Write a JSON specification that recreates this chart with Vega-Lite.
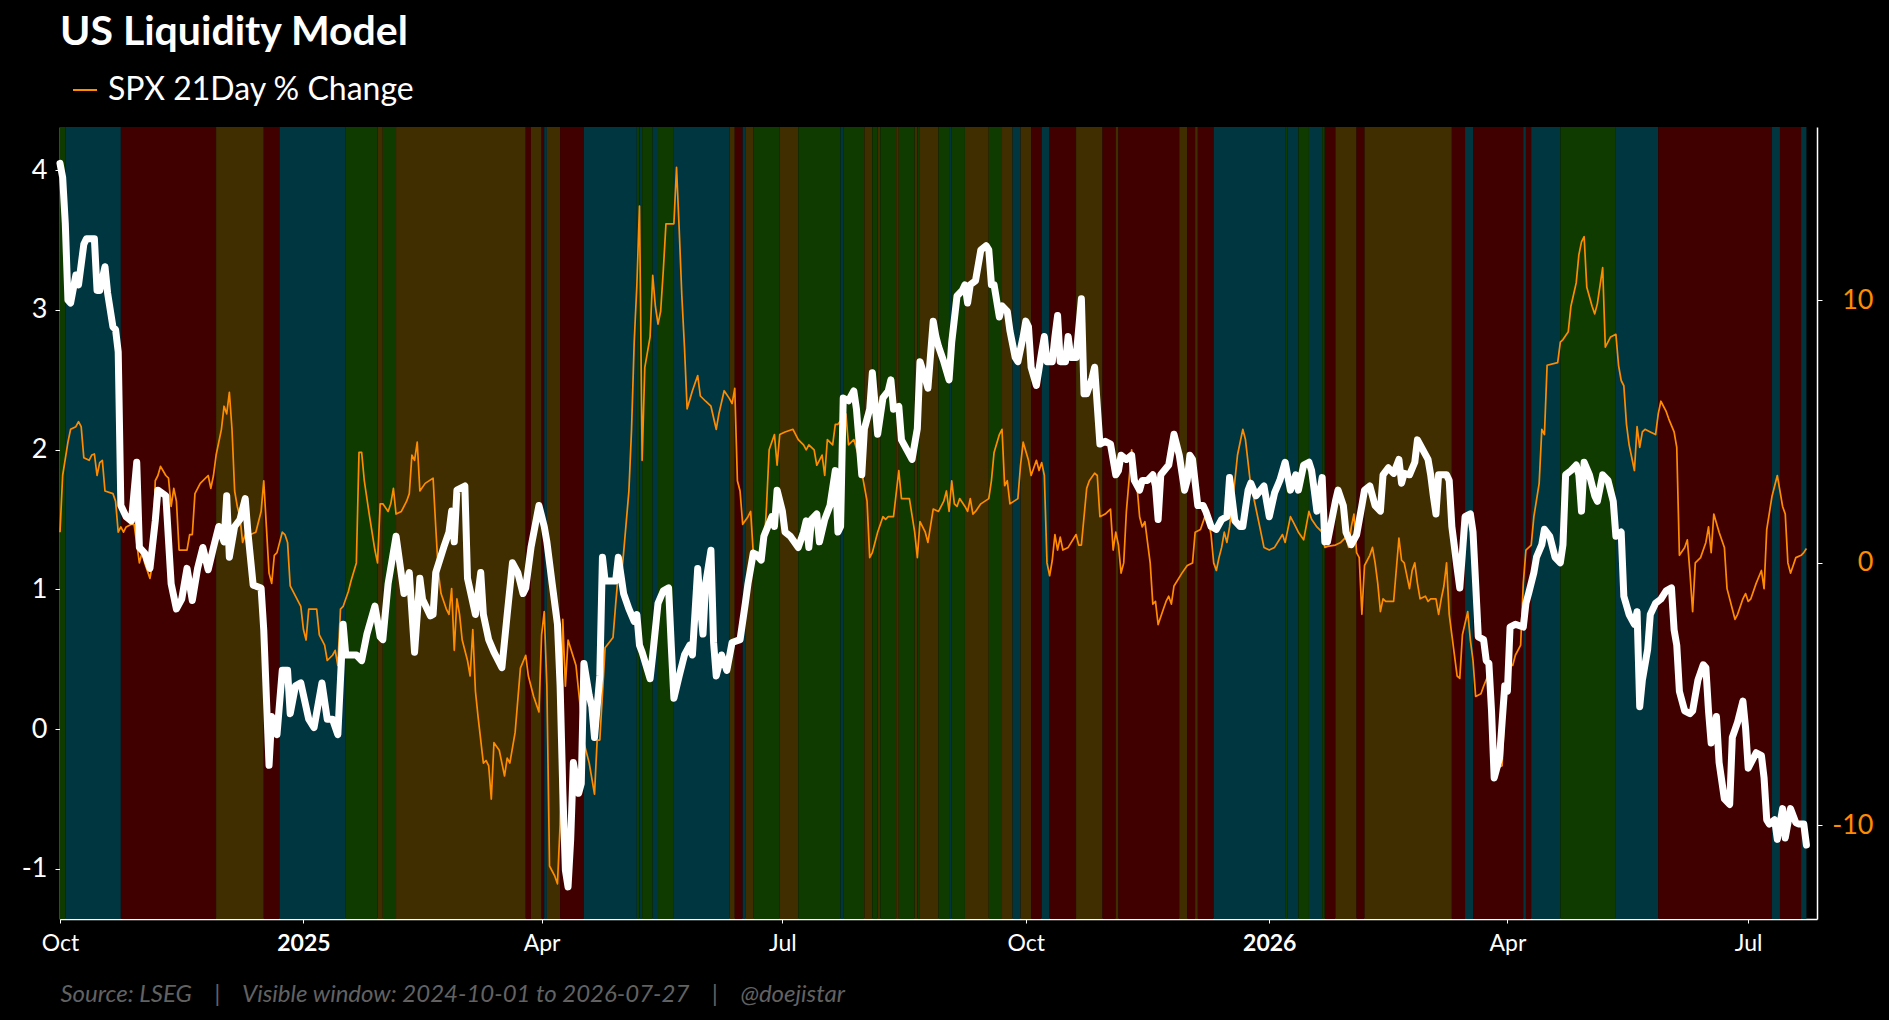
{
  "$schema": "https://vega.github.io/schema/vega-lite/v6.json",
  "background": "black",
  "autosize": {"type": "none"},
  "padding": {"left": 60, "top": 127, "right": 72, "bottom": 101},
  "width": 1757,
  "height": 792,
  "title": {
    "text": "US Liquidity Model",
    "anchor": "start",
    "frame": "group",
    "orient": "top",
    "color": "white",
    "font": "Lato",
    "fontSize": 41,
    "fontWeight": "bold",
    "baseline": "alphabetic",
    "offset": 25,
    "dy": 37
  },
  "config": {
    "view": {"stroke": null},
    "axis": {"grid": false, "labelFont": "Lato", "titleFont": "Lato"},
    "axisX": {
      "labelColor": "white",
      "labelFontSize": 23,
      "labelPadding": 9,
      "labelFlush": false,
      "labelOverlap": false,
      "tickColor": "white",
      "tickSize": 4,
      "domainColor": "white",
      "domainWidth": 1.5,
      "titleColor": "#626262",
      "titleFontSize": 24,
      "titleFontStyle": "italic",
      "titleFontWeight": "normal",
      "titleAnchor": "start",
      "titleAlign": "left",
      "titleBaseline": "alphabetic",
      "titleX": 0,
      "titleY": 82
    }
  },
  "datasets": {
    "bands": [
      {"s": "2024-10-01", "e": "2024-10-03", "r": "green"},
      {"s": "2024-10-03", "e": "2024-10-24", "r": "teal"},
      {"s": "2024-10-24", "e": "2024-11-29", "r": "red"},
      {"s": "2024-11-29", "e": "2024-12-17", "r": "brown"},
      {"s": "2024-12-17", "e": "2024-12-23", "r": "red"},
      {"s": "2024-12-23", "e": "2025-01-17", "r": "teal"},
      {"s": "2025-01-17", "e": "2025-01-29", "r": "green"},
      {"s": "2025-01-29", "e": "2025-01-31", "r": "brown"},
      {"s": "2025-01-31", "e": "2025-02-05", "r": "green"},
      {"s": "2025-02-05", "e": "2025-03-26", "r": "brown"},
      {"s": "2025-03-26", "e": "2025-03-28", "r": "red"},
      {"s": "2025-03-28", "e": "2025-04-01", "r": "brown"},
      {"s": "2025-04-01", "e": "2025-04-02", "r": "red"},
      {"s": "2025-04-02", "e": "2025-04-03", "r": "teal"},
      {"s": "2025-04-03", "e": "2025-04-08", "r": "brown"},
      {"s": "2025-04-08", "e": "2025-04-17", "r": "red"},
      {"s": "2025-04-17", "e": "2025-05-07", "r": "teal"},
      {"s": "2025-05-07", "e": "2025-05-08", "r": "green"},
      {"s": "2025-05-08", "e": "2025-05-09", "r": "teal"},
      {"s": "2025-05-09", "e": "2025-05-13", "r": "green"},
      {"s": "2025-05-13", "e": "2025-05-15", "r": "teal"},
      {"s": "2025-05-15", "e": "2025-05-21", "r": "green"},
      {"s": "2025-05-21", "e": "2025-06-11", "r": "teal"},
      {"s": "2025-06-11", "e": "2025-06-13", "r": "brown"},
      {"s": "2025-06-13", "e": "2025-06-16", "r": "red"},
      {"s": "2025-06-16", "e": "2025-06-17", "r": "teal"},
      {"s": "2025-06-17", "e": "2025-06-20", "r": "brown"},
      {"s": "2025-06-20", "e": "2025-06-30", "r": "green"},
      {"s": "2025-06-30", "e": "2025-07-07", "r": "brown"},
      {"s": "2025-07-07", "e": "2025-07-23", "r": "green"},
      {"s": "2025-07-23", "e": "2025-07-24", "r": "teal"},
      {"s": "2025-07-24", "e": "2025-08-01", "r": "green"},
      {"s": "2025-08-01", "e": "2025-08-04", "r": "brown"},
      {"s": "2025-08-04", "e": "2025-08-06", "r": "green"},
      {"s": "2025-08-06", "e": "2025-08-07", "r": "brown"},
      {"s": "2025-08-07", "e": "2025-08-13", "r": "green"},
      {"s": "2025-08-13", "e": "2025-08-14", "r": "brown"},
      {"s": "2025-08-14", "e": "2025-08-20", "r": "green"},
      {"s": "2025-08-20", "e": "2025-08-21", "r": "brown"},
      {"s": "2025-08-21", "e": "2025-08-22", "r": "green"},
      {"s": "2025-08-22", "e": "2025-08-29", "r": "brown"},
      {"s": "2025-08-29", "e": "2025-09-02", "r": "green"},
      {"s": "2025-09-02", "e": "2025-09-03", "r": "teal"},
      {"s": "2025-09-03", "e": "2025-09-08", "r": "green"},
      {"s": "2025-09-08", "e": "2025-09-17", "r": "brown"},
      {"s": "2025-09-17", "e": "2025-09-22", "r": "green"},
      {"s": "2025-09-22", "e": "2025-09-26", "r": "brown"},
      {"s": "2025-09-26", "e": "2025-09-29", "r": "teal"},
      {"s": "2025-09-29", "e": "2025-10-03", "r": "brown"},
      {"s": "2025-10-03", "e": "2025-10-07", "r": "red"},
      {"s": "2025-10-07", "e": "2025-10-10", "r": "teal"},
      {"s": "2025-10-10", "e": "2025-10-20", "r": "red"},
      {"s": "2025-10-20", "e": "2025-10-30", "r": "brown"},
      {"s": "2025-10-30", "e": "2025-11-04", "r": "red"},
      {"s": "2025-11-04", "e": "2025-11-05", "r": "brown"},
      {"s": "2025-11-05", "e": "2025-11-28", "r": "red"},
      {"s": "2025-11-28", "e": "2025-12-01", "r": "brown"},
      {"s": "2025-12-01", "e": "2025-12-04", "r": "red"},
      {"s": "2025-12-04", "e": "2025-12-05", "r": "brown"},
      {"s": "2025-12-05", "e": "2025-12-11", "r": "red"},
      {"s": "2025-12-11", "e": "2026-01-07", "r": "teal"},
      {"s": "2026-01-07", "e": "2026-01-08", "r": "green"},
      {"s": "2026-01-08", "e": "2026-01-12", "r": "teal"},
      {"s": "2026-01-12", "e": "2026-01-16", "r": "green"},
      {"s": "2026-01-16", "e": "2026-01-21", "r": "teal"},
      {"s": "2026-01-21", "e": "2026-01-22", "r": "green"},
      {"s": "2026-01-22", "e": "2026-01-26", "r": "red"},
      {"s": "2026-01-26", "e": "2026-02-03", "r": "brown"},
      {"s": "2026-02-03", "e": "2026-02-06", "r": "red"},
      {"s": "2026-02-06", "e": "2026-03-11", "r": "brown"},
      {"s": "2026-03-11", "e": "2026-03-16", "r": "red"},
      {"s": "2026-03-16", "e": "2026-03-19", "r": "teal"},
      {"s": "2026-03-19", "e": "2026-04-07", "r": "red"},
      {"s": "2026-04-07", "e": "2026-04-08", "r": "teal"},
      {"s": "2026-04-08", "e": "2026-04-10", "r": "red"},
      {"s": "2026-04-10", "e": "2026-04-21", "r": "teal"},
      {"s": "2026-04-21", "e": "2026-05-12", "r": "green"},
      {"s": "2026-05-12", "e": "2026-05-28", "r": "teal"},
      {"s": "2026-05-28", "e": "2026-07-10", "r": "red"},
      {"s": "2026-07-10", "e": "2026-07-13", "r": "teal"},
      {"s": "2026-07-13", "e": "2026-07-21", "r": "red"},
      {"s": "2026-07-21", "e": "2026-07-23", "r": "teal"}
    ],
    "liq": [
      {"d": "2024-10-01", "v": 4.05}, {"d": "2024-10-02", "v": 3.95}, {"d": "2024-10-03", "v": 3.62},
      {"d": "2024-10-04", "v": 3.07}, {"d": "2024-10-05", "v": 3.05}, {"d": "2024-10-07", "v": 3.25},
      {"d": "2024-10-08", "v": 3.18}, {"d": "2024-10-10", "v": 3.47}, {"d": "2024-10-11", "v": 3.51},
      {"d": "2024-10-14", "v": 3.51}, {"d": "2024-10-15", "v": 3.14}, {"d": "2024-10-16", "v": 3.14},
      {"d": "2024-10-18", "v": 3.31}, {"d": "2024-10-19", "v": 3.12}, {"d": "2024-10-21", "v": 2.88},
      {"d": "2024-10-22", "v": 2.86}, {"d": "2024-10-23", "v": 2.7}, {"d": "2024-10-24", "v": 1.6},
      {"d": "2024-10-26", "v": 1.52}, {"d": "2024-10-28", "v": 1.49}, {"d": "2024-10-30", "v": 1.91},
      {"d": "2024-10-31", "v": 1.3}, {"d": "2024-11-02", "v": 1.26}, {"d": "2024-11-04", "v": 1.15},
      {"d": "2024-11-06", "v": 1.49}, {"d": "2024-11-07", "v": 1.71}, {"d": "2024-11-10", "v": 1.67},
      {"d": "2024-11-12", "v": 1.04}, {"d": "2024-11-14", "v": 0.86}, {"d": "2024-11-16", "v": 0.93},
      {"d": "2024-11-18", "v": 1.15}, {"d": "2024-11-20", "v": 0.92}, {"d": "2024-11-22", "v": 1.15},
      {"d": "2024-11-24", "v": 1.3}, {"d": "2024-11-26", "v": 1.14}, {"d": "2024-11-28", "v": 1.3},
      {"d": "2024-11-30", "v": 1.45}, {"d": "2024-12-02", "v": 1.34}, {"d": "2024-12-03", "v": 1.67},
      {"d": "2024-12-04", "v": 1.23}, {"d": "2024-12-06", "v": 1.45}, {"d": "2024-12-08", "v": 1.5},
      {"d": "2024-12-10", "v": 1.65}, {"d": "2024-12-11", "v": 1.41}, {"d": "2024-12-13", "v": 1.03},
      {"d": "2024-12-16", "v": 1.01}, {"d": "2024-12-17", "v": 0.71}, {"d": "2024-12-19", "v": -0.26},
      {"d": "2024-12-20", "v": 0.09}, {"d": "2024-12-22", "v": -0.04}, {"d": "2024-12-24", "v": 0.42},
      {"d": "2024-12-26", "v": 0.42}, {"d": "2024-12-27", "v": 0.11}, {"d": "2024-12-29", "v": 0.31},
      {"d": "2024-12-31", "v": 0.33}, {"d": "2025-01-03", "v": 0.07}, {"d": "2025-01-05", "v": 0.01},
      {"d": "2025-01-08", "v": 0.33}, {"d": "2025-01-10", "v": 0.07}, {"d": "2025-01-12", "v": 0.07},
      {"d": "2025-01-14", "v": -0.04}, {"d": "2025-01-16", "v": 0.75}, {"d": "2025-01-17", "v": 0.53},
      {"d": "2025-01-21", "v": 0.53}, {"d": "2025-01-23", "v": 0.49}, {"d": "2025-01-25", "v": 0.68},
      {"d": "2025-01-28", "v": 0.88}, {"d": "2025-01-30", "v": 0.66}, {"d": "2025-01-31", "v": 0.64},
      {"d": "2025-02-02", "v": 1.04}, {"d": "2025-02-05", "v": 1.38}, {"d": "2025-02-08", "v": 0.97},
      {"d": "2025-02-10", "v": 1.12}, {"d": "2025-02-12", "v": 0.55}, {"d": "2025-02-14", "v": 1.08},
      {"d": "2025-02-15", "v": 0.93}, {"d": "2025-02-18", "v": 0.81}, {"d": "2025-02-19", "v": 0.82},
      {"d": "2025-02-20", "v": 1.12}, {"d": "2025-02-23", "v": 1.3}, {"d": "2025-02-25", "v": 1.41},
      {"d": "2025-02-26", "v": 1.56}, {"d": "2025-02-27", "v": 1.34}, {"d": "2025-02-28", "v": 1.71},
      {"d": "2025-03-03", "v": 1.74}, {"d": "2025-03-04", "v": 1.08}, {"d": "2025-03-07", "v": 0.82},
      {"d": "2025-03-09", "v": 1.12}, {"d": "2025-03-10", "v": 0.82}, {"d": "2025-03-12", "v": 0.64},
      {"d": "2025-03-14", "v": 0.55}, {"d": "2025-03-17", "v": 0.44}, {"d": "2025-03-19", "v": 0.82},
      {"d": "2025-03-21", "v": 1.19}, {"d": "2025-03-23", "v": 1.12}, {"d": "2025-03-25", "v": 0.97},
      {"d": "2025-03-26", "v": 1.01}, {"d": "2025-03-28", "v": 1.3}, {"d": "2025-03-31", "v": 1.6},
      {"d": "2025-04-02", "v": 1.45}, {"d": "2025-04-03", "v": 1.34}, {"d": "2025-04-05", "v": 1.04},
      {"d": "2025-04-07", "v": 0.75}, {"d": "2025-04-08", "v": 0.31}, {"d": "2025-04-09", "v": -0.43},
      {"d": "2025-04-10", "v": -1.01}, {"d": "2025-04-11", "v": -1.13}, {"d": "2025-04-12", "v": -0.79},
      {"d": "2025-04-13", "v": -0.24}, {"d": "2025-04-15", "v": -0.46}, {"d": "2025-04-16", "v": -0.39},
      {"d": "2025-04-17", "v": 0.47}, {"d": "2025-04-19", "v": 0.24}, {"d": "2025-04-20", "v": 0.16},
      {"d": "2025-04-21", "v": -0.06}, {"d": "2025-04-23", "v": 0.38}, {"d": "2025-04-24", "v": 1.23},
      {"d": "2025-04-25", "v": 1.06}, {"d": "2025-04-29", "v": 1.06}, {"d": "2025-04-30", "v": 1.23},
      {"d": "2025-05-02", "v": 0.97}, {"d": "2025-05-04", "v": 0.86}, {"d": "2025-05-06", "v": 0.77},
      {"d": "2025-05-07", "v": 0.82}, {"d": "2025-05-08", "v": 0.6}, {"d": "2025-05-09", "v": 0.55},
      {"d": "2025-05-12", "v": 0.36}, {"d": "2025-05-13", "v": 0.53}, {"d": "2025-05-15", "v": 0.9},
      {"d": "2025-05-17", "v": 0.99}, {"d": "2025-05-19", "v": 1.01}, {"d": "2025-05-20", "v": 0.6},
      {"d": "2025-05-21", "v": 0.22}, {"d": "2025-05-23", "v": 0.38}, {"d": "2025-05-25", "v": 0.53},
      {"d": "2025-05-27", "v": 0.6}, {"d": "2025-05-28", "v": 0.53}, {"d": "2025-05-30", "v": 1.15},
      {"d": "2025-05-31", "v": 0.88}, {"d": "2025-06-01", "v": 0.68}, {"d": "2025-06-02", "v": 1.04},
      {"d": "2025-06-04", "v": 1.28}, {"d": "2025-06-05", "v": 0.62}, {"d": "2025-06-06", "v": 0.38},
      {"d": "2025-06-08", "v": 0.53}, {"d": "2025-06-10", "v": 0.42}, {"d": "2025-06-12", "v": 0.62},
      {"d": "2025-06-15", "v": 0.64}, {"d": "2025-06-17", "v": 0.9}, {"d": "2025-06-18", "v": 1.04},
      {"d": "2025-06-20", "v": 1.26}, {"d": "2025-06-21", "v": 1.25}, {"d": "2025-06-23", "v": 1.21},
      {"d": "2025-06-24", "v": 1.38}, {"d": "2025-06-27", "v": 1.52}, {"d": "2025-06-28", "v": 1.45},
      {"d": "2025-06-29", "v": 1.71}, {"d": "2025-07-01", "v": 1.56}, {"d": "2025-07-02", "v": 1.41},
      {"d": "2025-07-04", "v": 1.38}, {"d": "2025-07-07", "v": 1.3}, {"d": "2025-07-09", "v": 1.41},
      {"d": "2025-07-10", "v": 1.49}, {"d": "2025-07-11", "v": 1.3}, {"d": "2025-07-12", "v": 1.5},
      {"d": "2025-07-14", "v": 1.54}, {"d": "2025-07-15", "v": 1.34}, {"d": "2025-07-17", "v": 1.5},
      {"d": "2025-07-19", "v": 1.6}, {"d": "2025-07-21", "v": 1.85}, {"d": "2025-07-22", "v": 1.41},
      {"d": "2025-07-23", "v": 1.45}, {"d": "2025-07-24", "v": 2.37}, {"d": "2025-07-26", "v": 2.35},
      {"d": "2025-07-28", "v": 2.42}, {"d": "2025-07-29", "v": 2.29}, {"d": "2025-07-31", "v": 1.82},
      {"d": "2025-08-01", "v": 2.15}, {"d": "2025-08-03", "v": 2.29}, {"d": "2025-08-04", "v": 2.55},
      {"d": "2025-08-06", "v": 2.11}, {"d": "2025-08-08", "v": 2.37}, {"d": "2025-08-10", "v": 2.42},
      {"d": "2025-08-11", "v": 2.5}, {"d": "2025-08-12", "v": 2.29}, {"d": "2025-08-14", "v": 2.31},
      {"d": "2025-08-15", "v": 2.07}, {"d": "2025-08-17", "v": 2.0}, {"d": "2025-08-19", "v": 1.93},
      {"d": "2025-08-21", "v": 2.15}, {"d": "2025-08-22", "v": 2.63}, {"d": "2025-08-24", "v": 2.51},
      {"d": "2025-08-25", "v": 2.44}, {"d": "2025-08-27", "v": 2.92}, {"d": "2025-08-28", "v": 2.81},
      {"d": "2025-08-29", "v": 2.74}, {"d": "2025-08-31", "v": 2.63}, {"d": "2025-09-02", "v": 2.5},
      {"d": "2025-09-03", "v": 2.77}, {"d": "2025-09-05", "v": 3.1}, {"d": "2025-09-07", "v": 3.14},
      {"d": "2025-09-08", "v": 3.18}, {"d": "2025-09-09", "v": 3.05}, {"d": "2025-09-10", "v": 3.18},
      {"d": "2025-09-12", "v": 3.21}, {"d": "2025-09-14", "v": 3.43}, {"d": "2025-09-16", "v": 3.46},
      {"d": "2025-09-17", "v": 3.43}, {"d": "2025-09-18", "v": 3.18}, {"d": "2025-09-19", "v": 3.18},
      {"d": "2025-09-21", "v": 2.95}, {"d": "2025-09-22", "v": 3.03}, {"d": "2025-09-24", "v": 2.99},
      {"d": "2025-09-25", "v": 2.85}, {"d": "2025-09-27", "v": 2.66}, {"d": "2025-09-28", "v": 2.63},
      {"d": "2025-09-30", "v": 2.81}, {"d": "2025-10-01", "v": 2.92}, {"d": "2025-10-02", "v": 2.88},
      {"d": "2025-10-03", "v": 2.59}, {"d": "2025-10-05", "v": 2.46}, {"d": "2025-10-07", "v": 2.7},
      {"d": "2025-10-08", "v": 2.81}, {"d": "2025-10-09", "v": 2.63}, {"d": "2025-10-11", "v": 2.63},
      {"d": "2025-10-12", "v": 2.81}, {"d": "2025-10-13", "v": 2.96}, {"d": "2025-10-14", "v": 2.63},
      {"d": "2025-10-16", "v": 2.63}, {"d": "2025-10-17", "v": 2.81}, {"d": "2025-10-18", "v": 2.66},
      {"d": "2025-10-20", "v": 2.66}, {"d": "2025-10-22", "v": 3.08}, {"d": "2025-10-23", "v": 2.4},
      {"d": "2025-10-24", "v": 2.4}, {"d": "2025-10-26", "v": 2.51}, {"d": "2025-10-27", "v": 2.59},
      {"d": "2025-10-29", "v": 2.04}, {"d": "2025-10-31", "v": 2.06}, {"d": "2025-11-02", "v": 2.04},
      {"d": "2025-11-04", "v": 1.82}, {"d": "2025-11-05", "v": 1.85}, {"d": "2025-11-06", "v": 1.96},
      {"d": "2025-11-08", "v": 1.93}, {"d": "2025-11-10", "v": 1.96}, {"d": "2025-11-11", "v": 1.78},
      {"d": "2025-11-13", "v": 1.71}, {"d": "2025-11-14", "v": 1.78}, {"d": "2025-11-16", "v": 1.78},
      {"d": "2025-11-18", "v": 1.82}, {"d": "2025-11-19", "v": 1.74}, {"d": "2025-11-20", "v": 1.5},
      {"d": "2025-11-21", "v": 1.82}, {"d": "2025-11-24", "v": 1.89}, {"d": "2025-11-26", "v": 2.11},
      {"d": "2025-11-28", "v": 1.96}, {"d": "2025-11-30", "v": 1.71}, {"d": "2025-12-01", "v": 1.78},
      {"d": "2025-12-02", "v": 1.96}, {"d": "2025-12-03", "v": 1.93}, {"d": "2025-12-05", "v": 1.6},
      {"d": "2025-12-07", "v": 1.6}, {"d": "2025-12-08", "v": 1.56}, {"d": "2025-12-10", "v": 1.45},
      {"d": "2025-12-12", "v": 1.43}, {"d": "2025-12-14", "v": 1.5}, {"d": "2025-12-16", "v": 1.52},
      {"d": "2025-12-17", "v": 1.8}, {"d": "2025-12-19", "v": 1.49}, {"d": "2025-12-21", "v": 1.45},
      {"d": "2025-12-22", "v": 1.45}, {"d": "2025-12-24", "v": 1.71}, {"d": "2025-12-25", "v": 1.76},
      {"d": "2025-12-27", "v": 1.67}, {"d": "2025-12-30", "v": 1.74}, {"d": "2026-01-01", "v": 1.52},
      {"d": "2026-01-03", "v": 1.69}, {"d": "2026-01-05", "v": 1.78}, {"d": "2026-01-07", "v": 1.91},
      {"d": "2026-01-09", "v": 1.71}, {"d": "2026-01-11", "v": 1.82}, {"d": "2026-01-12", "v": 1.71},
      {"d": "2026-01-14", "v": 1.89}, {"d": "2026-01-16", "v": 1.91}, {"d": "2026-01-17", "v": 1.85},
      {"d": "2026-01-18", "v": 1.71}, {"d": "2026-01-19", "v": 1.56}, {"d": "2026-01-21", "v": 1.8},
      {"d": "2026-01-22", "v": 1.34}, {"d": "2026-01-23", "v": 1.34}, {"d": "2026-01-26", "v": 1.63},
      {"d": "2026-01-27", "v": 1.71}, {"d": "2026-01-29", "v": 1.6}, {"d": "2026-01-30", "v": 1.41},
      {"d": "2026-02-01", "v": 1.32}, {"d": "2026-02-03", "v": 1.39}, {"d": "2026-02-05", "v": 1.6},
      {"d": "2026-02-06", "v": 1.71}, {"d": "2026-02-08", "v": 1.74}, {"d": "2026-02-10", "v": 1.6},
      {"d": "2026-02-12", "v": 1.56}, {"d": "2026-02-13", "v": 1.82}, {"d": "2026-02-15", "v": 1.87},
      {"d": "2026-02-17", "v": 1.83}, {"d": "2026-02-19", "v": 1.93}, {"d": "2026-02-20", "v": 1.76},
      {"d": "2026-02-21", "v": 1.83}, {"d": "2026-02-23", "v": 1.82}, {"d": "2026-02-25", "v": 1.91},
      {"d": "2026-02-26", "v": 2.07}, {"d": "2026-02-28", "v": 2.0}, {"d": "2026-03-02", "v": 1.93},
      {"d": "2026-03-03", "v": 1.82}, {"d": "2026-03-04", "v": 1.67}, {"d": "2026-03-05", "v": 1.54},
      {"d": "2026-03-06", "v": 1.82}, {"d": "2026-03-09", "v": 1.82}, {"d": "2026-03-10", "v": 1.78},
      {"d": "2026-03-11", "v": 1.45}, {"d": "2026-03-13", "v": 1.15}, {"d": "2026-03-14", "v": 1.01},
      {"d": "2026-03-15", "v": 1.26}, {"d": "2026-03-16", "v": 1.52}, {"d": "2026-03-18", "v": 1.54},
      {"d": "2026-03-19", "v": 1.41}, {"d": "2026-03-20", "v": 1.04}, {"d": "2026-03-21", "v": 0.66},
      {"d": "2026-03-23", "v": 0.64}, {"d": "2026-03-24", "v": 0.49}, {"d": "2026-03-25", "v": 0.47},
      {"d": "2026-03-26", "v": 0.13}, {"d": "2026-03-27", "v": -0.35}, {"d": "2026-03-29", "v": -0.21},
      {"d": "2026-03-30", "v": 0.05}, {"d": "2026-03-31", "v": 0.31}, {"d": "2026-04-01", "v": 0.27},
      {"d": "2026-04-02", "v": 0.73}, {"d": "2026-04-04", "v": 0.75}, {"d": "2026-04-07", "v": 0.73},
      {"d": "2026-04-08", "v": 0.9}, {"d": "2026-04-09", "v": 0.97}, {"d": "2026-04-11", "v": 1.12},
      {"d": "2026-04-12", "v": 1.23}, {"d": "2026-04-14", "v": 1.32}, {"d": "2026-04-15", "v": 1.43},
      {"d": "2026-04-17", "v": 1.38}, {"d": "2026-04-19", "v": 1.23}, {"d": "2026-04-21", "v": 1.19},
      {"d": "2026-04-22", "v": 1.32}, {"d": "2026-04-23", "v": 1.82}, {"d": "2026-04-25", "v": 1.85},
      {"d": "2026-04-27", "v": 1.89}, {"d": "2026-04-28", "v": 1.82}, {"d": "2026-04-29", "v": 1.56},
      {"d": "2026-04-30", "v": 1.91}, {"d": "2026-05-02", "v": 1.82}, {"d": "2026-05-04", "v": 1.67},
      {"d": "2026-05-05", "v": 1.63}, {"d": "2026-05-07", "v": 1.82}, {"d": "2026-05-09", "v": 1.78},
      {"d": "2026-05-11", "v": 1.63}, {"d": "2026-05-12", "v": 1.38}, {"d": "2026-05-14", "v": 1.41},
      {"d": "2026-05-15", "v": 0.95}, {"d": "2026-05-17", "v": 0.82}, {"d": "2026-05-19", "v": 0.75},
      {"d": "2026-05-20", "v": 0.84}, {"d": "2026-05-21", "v": 0.16}, {"d": "2026-05-22", "v": 0.35},
      {"d": "2026-05-24", "v": 0.57}, {"d": "2026-05-25", "v": 0.82}, {"d": "2026-05-27", "v": 0.9},
      {"d": "2026-05-29", "v": 0.93}, {"d": "2026-05-31", "v": 0.99}, {"d": "2026-06-02", "v": 1.01},
      {"d": "2026-06-03", "v": 0.71}, {"d": "2026-06-04", "v": 0.6}, {"d": "2026-06-05", "v": 0.27},
      {"d": "2026-06-07", "v": 0.13}, {"d": "2026-06-09", "v": 0.11}, {"d": "2026-06-10", "v": 0.13},
      {"d": "2026-06-12", "v": 0.35}, {"d": "2026-06-14", "v": 0.46}, {"d": "2026-06-15", "v": 0.44},
      {"d": "2026-06-16", "v": 0.13}, {"d": "2026-06-17", "v": -0.1}, {"d": "2026-06-19", "v": 0.09},
      {"d": "2026-06-20", "v": -0.24}, {"d": "2026-06-22", "v": -0.5}, {"d": "2026-06-24", "v": -0.54},
      {"d": "2026-06-25", "v": -0.06}, {"d": "2026-06-27", "v": 0.05}, {"d": "2026-06-29", "v": 0.2},
      {"d": "2026-06-30", "v": 0.01}, {"d": "2026-07-01", "v": -0.28}, {"d": "2026-07-04", "v": -0.17},
      {"d": "2026-07-06", "v": -0.19}, {"d": "2026-07-07", "v": -0.35}, {"d": "2026-07-08", "v": -0.65},
      {"d": "2026-07-09", "v": -0.68}, {"d": "2026-07-11", "v": -0.65}, {"d": "2026-07-12", "v": -0.79},
      {"d": "2026-07-14", "v": -0.57}, {"d": "2026-07-15", "v": -0.78}, {"d": "2026-07-17", "v": -0.57},
      {"d": "2026-07-19", "v": -0.67}, {"d": "2026-07-20", "v": -0.68}, {"d": "2026-07-22", "v": -0.68},
      {"d": "2026-07-23", "v": -0.83}
    ],
    "spx": [
      {"d": "2024-10-01", "v": 1.17}, {"d": "2024-10-02", "v": 3.33}, {"d": "2024-10-04", "v": 4.6},
      {"d": "2024-10-05", "v": 5.09}, {"d": "2024-10-07", "v": 5.19}, {"d": "2024-10-08", "v": 5.38},
      {"d": "2024-10-09", "v": 5.19}, {"d": "2024-10-10", "v": 4.01}, {"d": "2024-10-12", "v": 3.91},
      {"d": "2024-10-13", "v": 4.11}, {"d": "2024-10-14", "v": 4.15}, {"d": "2024-10-15", "v": 3.33},
      {"d": "2024-10-16", "v": 3.82}, {"d": "2024-10-17", "v": 3.91}, {"d": "2024-10-18", "v": 2.74},
      {"d": "2024-10-21", "v": 2.64}, {"d": "2024-10-22", "v": 2.35}, {"d": "2024-10-23", "v": 1.17},
      {"d": "2024-10-24", "v": 1.37}, {"d": "2024-10-25", "v": 1.17}, {"d": "2024-10-26", "v": 1.37},
      {"d": "2024-10-28", "v": 1.47}, {"d": "2024-10-29", "v": 1.47}, {"d": "2024-10-31", "v": 0.0},
      {"d": "2024-11-01", "v": 0.39}, {"d": "2024-11-02", "v": 0.0}, {"d": "2024-11-04", "v": -0.59},
      {"d": "2024-11-05", "v": 0.0}, {"d": "2024-11-06", "v": 3.13}, {"d": "2024-11-07", "v": 3.33},
      {"d": "2024-11-08", "v": 3.68}, {"d": "2024-11-10", "v": 3.33}, {"d": "2024-11-11", "v": 3.23},
      {"d": "2024-11-12", "v": 2.15}, {"d": "2024-11-13", "v": 2.84}, {"d": "2024-11-14", "v": 2.35},
      {"d": "2024-11-15", "v": 0.49}, {"d": "2024-11-18", "v": 0.49}, {"d": "2024-11-19", "v": 1.08},
      {"d": "2024-11-20", "v": 1.08}, {"d": "2024-11-21", "v": 2.64}, {"d": "2024-11-23", "v": 3.03},
      {"d": "2024-11-26", "v": 3.33}, {"d": "2024-11-27", "v": 2.84}, {"d": "2024-11-28", "v": 3.33},
      {"d": "2024-11-29", "v": 4.11}, {"d": "2024-12-01", "v": 5.09}, {"d": "2024-12-02", "v": 5.97},
      {"d": "2024-12-03", "v": 5.68}, {"d": "2024-12-04", "v": 6.5}, {"d": "2024-12-05", "v": 5.09},
      {"d": "2024-12-06", "v": 2.74}, {"d": "2024-12-07", "v": 2.15}, {"d": "2024-12-08", "v": 1.76},
      {"d": "2024-12-09", "v": 0.78}, {"d": "2024-12-11", "v": 1.37}, {"d": "2024-12-12", "v": 1.08},
      {"d": "2024-12-14", "v": 1.17}, {"d": "2024-12-16", "v": 1.96}, {"d": "2024-12-17", "v": 3.13},
      {"d": "2024-12-18", "v": 1.37}, {"d": "2024-12-19", "v": -0.39}, {"d": "2024-12-20", "v": -0.78},
      {"d": "2024-12-21", "v": 0.29}, {"d": "2024-12-22", "v": 0.39}, {"d": "2024-12-24", "v": 1.17},
      {"d": "2024-12-25", "v": 1.08}, {"d": "2024-12-26", "v": 0.78}, {"d": "2024-12-27", "v": -0.88},
      {"d": "2024-12-29", "v": -1.27}, {"d": "2024-12-31", "v": -1.66}, {"d": "2025-01-01", "v": -2.54},
      {"d": "2025-01-02", "v": -2.94}, {"d": "2025-01-03", "v": -1.76}, {"d": "2025-01-06", "v": -1.76},
      {"d": "2025-01-07", "v": -2.74}, {"d": "2025-01-09", "v": -3.13}, {"d": "2025-01-10", "v": -3.72},
      {"d": "2025-01-12", "v": -3.52}, {"d": "2025-01-13", "v": -3.33}, {"d": "2025-01-14", "v": -3.91},
      {"d": "2025-01-15", "v": -1.76}, {"d": "2025-01-16", "v": -1.66}, {"d": "2025-01-18", "v": -1.08},
      {"d": "2025-01-19", "v": -0.68}, {"d": "2025-01-21", "v": 0.0}, {"d": "2025-01-22", "v": 4.21},
      {"d": "2025-01-23", "v": 4.21}, {"d": "2025-01-24", "v": 3.13}, {"d": "2025-01-26", "v": 1.76},
      {"d": "2025-01-28", "v": 0.49}, {"d": "2025-01-29", "v": 0.0}, {"d": "2025-01-30", "v": 2.25},
      {"d": "2025-01-31", "v": 2.25}, {"d": "2025-02-02", "v": 1.96}, {"d": "2025-02-03", "v": 2.25},
      {"d": "2025-02-04", "v": 2.84}, {"d": "2025-02-05", "v": 1.86}, {"d": "2025-02-07", "v": 1.96},
      {"d": "2025-02-09", "v": 2.35}, {"d": "2025-02-10", "v": 2.64}, {"d": "2025-02-11", "v": 4.11},
      {"d": "2025-02-12", "v": 3.91}, {"d": "2025-02-13", "v": 4.6}, {"d": "2025-02-14", "v": 2.74},
      {"d": "2025-02-16", "v": 3.03}, {"d": "2025-02-19", "v": 3.23}, {"d": "2025-02-20", "v": 1.37},
      {"d": "2025-02-21", "v": -0.39}, {"d": "2025-02-22", "v": -1.17}, {"d": "2025-02-24", "v": -1.76},
      {"d": "2025-02-25", "v": -1.96}, {"d": "2025-02-26", "v": -0.98}, {"d": "2025-02-27", "v": -3.33},
      {"d": "2025-02-28", "v": -1.37}, {"d": "2025-03-01", "v": -1.96}, {"d": "2025-03-02", "v": -2.94},
      {"d": "2025-03-04", "v": -3.72}, {"d": "2025-03-05", "v": -4.31}, {"d": "2025-03-06", "v": -2.54},
      {"d": "2025-03-07", "v": -4.89}, {"d": "2025-03-08", "v": -5.87}, {"d": "2025-03-10", "v": -7.63},
      {"d": "2025-03-11", "v": -7.53}, {"d": "2025-03-12", "v": -7.73}, {"d": "2025-03-13", "v": -9.0},
      {"d": "2025-03-14", "v": -6.85}, {"d": "2025-03-16", "v": -7.14}, {"d": "2025-03-18", "v": -8.12},
      {"d": "2025-03-19", "v": -7.44}, {"d": "2025-03-20", "v": -7.63}, {"d": "2025-03-22", "v": -6.46},
      {"d": "2025-03-24", "v": -4.01}, {"d": "2025-03-26", "v": -3.52}, {"d": "2025-03-27", "v": -4.31},
      {"d": "2025-03-29", "v": -5.09}, {"d": "2025-03-31", "v": -5.68}, {"d": "2025-04-01", "v": -2.74},
      {"d": "2025-04-02", "v": -1.86}, {"d": "2025-04-03", "v": -4.7}, {"d": "2025-04-04", "v": -11.55},
      {"d": "2025-04-06", "v": -11.94}, {"d": "2025-04-07", "v": -12.23}, {"d": "2025-04-08", "v": -9.98},
      {"d": "2025-04-09", "v": -2.15}, {"d": "2025-04-10", "v": -4.7}, {"d": "2025-04-11", "v": -2.94},
      {"d": "2025-04-14", "v": -3.91}, {"d": "2025-04-15", "v": -4.89}, {"d": "2025-04-17", "v": -6.85},
      {"d": "2025-04-19", "v": -7.63}, {"d": "2025-04-21", "v": -8.81}, {"d": "2025-04-22", "v": -6.75},
      {"d": "2025-04-23", "v": -6.75}, {"d": "2025-04-25", "v": -3.23}, {"d": "2025-04-28", "v": -2.84},
      {"d": "2025-04-29", "v": -1.57}, {"d": "2025-04-30", "v": -0.39}, {"d": "2025-05-01", "v": -0.68},
      {"d": "2025-05-02", "v": 0.39}, {"d": "2025-05-04", "v": 2.74}, {"d": "2025-05-05", "v": 5.09},
      {"d": "2025-05-06", "v": 8.41}, {"d": "2025-05-07", "v": 10.57}, {"d": "2025-05-08", "v": 13.6},
      {"d": "2025-05-09", "v": 3.91}, {"d": "2025-05-10", "v": 7.44}, {"d": "2025-05-12", "v": 8.61},
      {"d": "2025-05-13", "v": 10.96}, {"d": "2025-05-14", "v": 9.78}, {"d": "2025-05-15", "v": 9.1},
      {"d": "2025-05-16", "v": 9.59}, {"d": "2025-05-17", "v": 11.15}, {"d": "2025-05-18", "v": 12.92},
      {"d": "2025-05-21", "v": 12.92}, {"d": "2025-05-22", "v": 15.07}, {"d": "2025-05-23", "v": 12.72},
      {"d": "2025-05-24", "v": 10.18}, {"d": "2025-05-25", "v": 8.22}, {"d": "2025-05-26", "v": 5.87},
      {"d": "2025-05-28", "v": 6.56}, {"d": "2025-05-30", "v": 7.14}, {"d": "2025-05-31", "v": 6.36},
      {"d": "2025-06-02", "v": 6.16}, {"d": "2025-06-04", "v": 5.97}, {"d": "2025-06-06", "v": 5.09},
      {"d": "2025-06-07", "v": 5.68}, {"d": "2025-06-09", "v": 6.56}, {"d": "2025-06-11", "v": 6.26},
      {"d": "2025-06-12", "v": 6.07}, {"d": "2025-06-13", "v": 6.65}, {"d": "2025-06-14", "v": 3.13},
      {"d": "2025-06-15", "v": 2.74}, {"d": "2025-06-16", "v": 1.47}, {"d": "2025-06-18", "v": 1.76},
      {"d": "2025-06-19", "v": 1.96}, {"d": "2025-06-20", "v": 0.39}, {"d": "2025-06-21", "v": 0.29},
      {"d": "2025-06-23", "v": 0.49}, {"d": "2025-06-24", "v": 0.39}, {"d": "2025-06-25", "v": 2.15},
      {"d": "2025-06-26", "v": 4.31}, {"d": "2025-06-28", "v": 4.89}, {"d": "2025-06-29", "v": 3.72},
      {"d": "2025-06-30", "v": 4.89}, {"d": "2025-07-02", "v": 4.99}, {"d": "2025-07-05", "v": 5.09},
      {"d": "2025-07-07", "v": 4.7}, {"d": "2025-07-09", "v": 4.5}, {"d": "2025-07-10", "v": 4.31},
      {"d": "2025-07-11", "v": 4.5}, {"d": "2025-07-13", "v": 4.31}, {"d": "2025-07-14", "v": 3.72},
      {"d": "2025-07-16", "v": 4.11}, {"d": "2025-07-17", "v": 3.33}, {"d": "2025-07-18", "v": 4.7},
      {"d": "2025-07-20", "v": 4.5}, {"d": "2025-07-21", "v": 5.28}, {"d": "2025-07-22", "v": 5.28},
      {"d": "2025-07-25", "v": 5.68}, {"d": "2025-07-26", "v": 4.5}, {"d": "2025-07-28", "v": 4.7},
      {"d": "2025-07-30", "v": 4.01}, {"d": "2025-08-02", "v": 2.35}, {"d": "2025-08-03", "v": 0.2},
      {"d": "2025-08-04", "v": 0.39}, {"d": "2025-08-05", "v": 0.78}, {"d": "2025-08-06", "v": 1.17},
      {"d": "2025-08-08", "v": 1.76}, {"d": "2025-08-09", "v": 1.66}, {"d": "2025-08-10", "v": 1.76},
      {"d": "2025-08-12", "v": 1.76}, {"d": "2025-08-14", "v": 3.52}, {"d": "2025-08-15", "v": 2.45},
      {"d": "2025-08-18", "v": 2.45}, {"d": "2025-08-20", "v": 1.17}, {"d": "2025-08-21", "v": 0.2},
      {"d": "2025-08-22", "v": 1.57}, {"d": "2025-08-24", "v": 1.17}, {"d": "2025-08-25", "v": 0.78},
      {"d": "2025-08-27", "v": 2.05}, {"d": "2025-08-29", "v": 1.96}, {"d": "2025-08-31", "v": 2.35},
      {"d": "2025-09-01", "v": 2.74}, {"d": "2025-09-02", "v": 1.96}, {"d": "2025-09-03", "v": 3.13},
      {"d": "2025-09-04", "v": 2.25}, {"d": "2025-09-05", "v": 2.15}, {"d": "2025-09-06", "v": 2.45},
      {"d": "2025-09-08", "v": 2.15}, {"d": "2025-09-09", "v": 1.96}, {"d": "2025-09-10", "v": 2.45},
      {"d": "2025-09-11", "v": 1.86}, {"d": "2025-09-12", "v": 1.96}, {"d": "2025-09-14", "v": 2.25},
      {"d": "2025-09-17", "v": 2.45}, {"d": "2025-09-18", "v": 3.13}, {"d": "2025-09-19", "v": 4.21},
      {"d": "2025-09-21", "v": 4.89}, {"d": "2025-09-22", "v": 5.09}, {"d": "2025-09-23", "v": 2.94},
      {"d": "2025-09-24", "v": 3.13}, {"d": "2025-09-25", "v": 2.25}, {"d": "2025-09-28", "v": 2.45},
      {"d": "2025-09-29", "v": 3.72}, {"d": "2025-09-30", "v": 4.6}, {"d": "2025-10-02", "v": 3.91},
      {"d": "2025-10-03", "v": 3.33}, {"d": "2025-10-05", "v": 3.91}, {"d": "2025-10-06", "v": 3.52},
      {"d": "2025-10-07", "v": 3.82}, {"d": "2025-10-08", "v": 3.33}, {"d": "2025-10-09", "v": 0.0},
      {"d": "2025-10-10", "v": -0.49}, {"d": "2025-10-11", "v": 0.1}, {"d": "2025-10-12", "v": 1.08},
      {"d": "2025-10-13", "v": 0.49}, {"d": "2025-10-14", "v": 0.98}, {"d": "2025-10-15", "v": 0.49},
      {"d": "2025-10-17", "v": 0.59}, {"d": "2025-10-20", "v": 1.08}, {"d": "2025-10-21", "v": 0.68},
      {"d": "2025-10-22", "v": 0.68}, {"d": "2025-10-24", "v": 2.84}, {"d": "2025-10-25", "v": 3.13},
      {"d": "2025-10-27", "v": 3.42}, {"d": "2025-10-28", "v": 3.33}, {"d": "2025-10-29", "v": 1.76},
      {"d": "2025-10-31", "v": 1.86}, {"d": "2025-11-02", "v": 2.05}, {"d": "2025-11-03", "v": 0.49},
      {"d": "2025-11-04", "v": 1.17}, {"d": "2025-11-05", "v": 0.68}, {"d": "2025-11-06", "v": -0.39},
      {"d": "2025-11-07", "v": 0.0}, {"d": "2025-11-08", "v": 1.96}, {"d": "2025-11-10", "v": 4.31},
      {"d": "2025-11-11", "v": 3.33}, {"d": "2025-11-12", "v": 2.94}, {"d": "2025-11-13", "v": 1.76},
      {"d": "2025-11-14", "v": 1.37}, {"d": "2025-11-15", "v": 1.57}, {"d": "2025-11-16", "v": 0.78},
      {"d": "2025-11-17", "v": 0.0}, {"d": "2025-11-18", "v": -1.57}, {"d": "2025-11-19", "v": -1.47},
      {"d": "2025-11-20", "v": -2.35}, {"d": "2025-11-22", "v": -1.76}, {"d": "2025-11-23", "v": -1.47},
      {"d": "2025-11-24", "v": -1.27}, {"d": "2025-11-25", "v": -1.57}, {"d": "2025-11-26", "v": -0.88},
      {"d": "2025-11-29", "v": -0.39}, {"d": "2025-12-01", "v": -0.1}, {"d": "2025-12-03", "v": 0.0},
      {"d": "2025-12-04", "v": 1.17}, {"d": "2025-12-06", "v": 1.27}, {"d": "2025-12-08", "v": 1.86},
      {"d": "2025-12-09", "v": 1.57}, {"d": "2025-12-10", "v": 1.08}, {"d": "2025-12-11", "v": 0.0},
      {"d": "2025-12-12", "v": -0.29}, {"d": "2025-12-13", "v": 0.2}, {"d": "2025-12-14", "v": 0.59},
      {"d": "2025-12-15", "v": 1.17}, {"d": "2025-12-16", "v": 0.78}, {"d": "2025-12-17", "v": 1.37},
      {"d": "2025-12-19", "v": 3.13}, {"d": "2025-12-20", "v": 4.11}, {"d": "2025-12-22", "v": 5.09},
      {"d": "2025-12-23", "v": 4.7}, {"d": "2025-12-25", "v": 2.94}, {"d": "2025-12-26", "v": 2.54},
      {"d": "2025-12-28", "v": 1.57}, {"d": "2025-12-30", "v": 0.59}, {"d": "2026-01-01", "v": 0.49},
      {"d": "2026-01-03", "v": 0.59}, {"d": "2026-01-06", "v": 1.08}, {"d": "2026-01-07", "v": 0.78},
      {"d": "2026-01-09", "v": 1.76}, {"d": "2026-01-10", "v": 1.57}, {"d": "2026-01-12", "v": 1.17},
      {"d": "2026-01-14", "v": 0.88}, {"d": "2026-01-16", "v": 1.96}, {"d": "2026-01-17", "v": 1.66},
      {"d": "2026-01-19", "v": 1.37}, {"d": "2026-01-21", "v": 1.17}, {"d": "2026-01-22", "v": 0.59},
      {"d": "2026-01-23", "v": 0.63}, {"d": "2026-01-26", "v": 0.68}, {"d": "2026-01-28", "v": 0.78},
      {"d": "2026-01-30", "v": 0.98}, {"d": "2026-01-31", "v": 0.59}, {"d": "2026-02-01", "v": 1.37},
      {"d": "2026-02-02", "v": 1.86}, {"d": "2026-02-03", "v": 0.39}, {"d": "2026-02-04", "v": 0.2},
      {"d": "2026-02-05", "v": -1.96}, {"d": "2026-02-06", "v": -0.1}, {"d": "2026-02-08", "v": 0.29},
      {"d": "2026-02-09", "v": 0.59}, {"d": "2026-02-10", "v": 0.0}, {"d": "2026-02-11", "v": -0.78},
      {"d": "2026-02-12", "v": -1.86}, {"d": "2026-02-13", "v": -1.37}, {"d": "2026-02-14", "v": -1.47},
      {"d": "2026-02-17", "v": -1.47}, {"d": "2026-02-19", "v": 0.94}, {"d": "2026-02-20", "v": 0.1},
      {"d": "2026-02-21", "v": 0.0}, {"d": "2026-02-23", "v": -0.98}, {"d": "2026-02-24", "v": -0.29},
      {"d": "2026-02-25", "v": 0.0}, {"d": "2026-02-26", "v": -0.78}, {"d": "2026-02-27", "v": -1.37},
      {"d": "2026-03-01", "v": -1.27}, {"d": "2026-03-02", "v": -1.47}, {"d": "2026-03-03", "v": -1.37},
      {"d": "2026-03-05", "v": -1.37}, {"d": "2026-03-06", "v": -1.96}, {"d": "2026-03-07", "v": -1.37},
      {"d": "2026-03-08", "v": -0.88}, {"d": "2026-03-09", "v": 0.0}, {"d": "2026-03-10", "v": -1.96},
      {"d": "2026-03-11", "v": -2.74}, {"d": "2026-03-13", "v": -4.31}, {"d": "2026-03-14", "v": -4.4},
      {"d": "2026-03-15", "v": -2.74}, {"d": "2026-03-17", "v": -1.86}, {"d": "2026-03-18", "v": -2.94},
      {"d": "2026-03-19", "v": -3.72}, {"d": "2026-03-20", "v": -5.09}, {"d": "2026-03-22", "v": -4.99},
      {"d": "2026-03-23", "v": -4.7}, {"d": "2026-03-25", "v": -4.21}, {"d": "2026-03-26", "v": -5.28},
      {"d": "2026-03-27", "v": -7.73}, {"d": "2026-03-28", "v": -7.83}, {"d": "2026-03-30", "v": -7.73},
      {"d": "2026-03-31", "v": -5.48}, {"d": "2026-04-01", "v": -3.72}, {"d": "2026-04-03", "v": -3.91},
      {"d": "2026-04-04", "v": -3.52}, {"d": "2026-04-06", "v": -3.13}, {"d": "2026-04-07", "v": -0.78},
      {"d": "2026-04-08", "v": 0.49}, {"d": "2026-04-10", "v": 0.68}, {"d": "2026-04-11", "v": 1.76},
      {"d": "2026-04-13", "v": 3.03}, {"d": "2026-04-14", "v": 5.09}, {"d": "2026-04-15", "v": 4.89},
      {"d": "2026-04-16", "v": 7.53}, {"d": "2026-04-20", "v": 7.63}, {"d": "2026-04-21", "v": 8.41},
      {"d": "2026-04-22", "v": 8.51}, {"d": "2026-04-24", "v": 8.81}, {"d": "2026-04-25", "v": 9.78},
      {"d": "2026-04-27", "v": 10.67}, {"d": "2026-04-28", "v": 11.74}, {"d": "2026-04-29", "v": 12.23},
      {"d": "2026-04-30", "v": 12.43}, {"d": "2026-05-01", "v": 10.5}, {"d": "2026-05-03", "v": 9.78},
      {"d": "2026-05-04", "v": 9.49}, {"d": "2026-05-05", "v": 9.88}, {"d": "2026-05-06", "v": 10.57},
      {"d": "2026-05-07", "v": 11.25}, {"d": "2026-05-08", "v": 8.22}, {"d": "2026-05-10", "v": 8.61},
      {"d": "2026-05-12", "v": 8.71}, {"d": "2026-05-13", "v": 7.53}, {"d": "2026-05-14", "v": 6.95},
      {"d": "2026-05-15", "v": 6.75}, {"d": "2026-05-16", "v": 5.28}, {"d": "2026-05-17", "v": 4.5},
      {"d": "2026-05-19", "v": 3.52}, {"d": "2026-05-20", "v": 5.19}, {"d": "2026-05-21", "v": 4.4},
      {"d": "2026-05-22", "v": 4.99}, {"d": "2026-05-23", "v": 5.09}, {"d": "2026-05-25", "v": 4.99},
      {"d": "2026-05-27", "v": 4.89}, {"d": "2026-05-28", "v": 5.68}, {"d": "2026-05-29", "v": 6.16},
      {"d": "2026-05-31", "v": 5.77}, {"d": "2026-06-01", "v": 5.48}, {"d": "2026-06-03", "v": 4.99},
      {"d": "2026-06-04", "v": 4.4}, {"d": "2026-06-05", "v": 0.29}, {"d": "2026-06-07", "v": 0.59},
      {"d": "2026-06-08", "v": 0.88}, {"d": "2026-06-09", "v": -0.39}, {"d": "2026-06-10", "v": -1.86},
      {"d": "2026-06-11", "v": 0.0}, {"d": "2026-06-13", "v": 0.2}, {"d": "2026-06-15", "v": 0.78},
      {"d": "2026-06-16", "v": 1.37}, {"d": "2026-06-17", "v": 0.39}, {"d": "2026-06-18", "v": 1.86},
      {"d": "2026-06-20", "v": 1.17}, {"d": "2026-06-22", "v": 0.59}, {"d": "2026-06-23", "v": -0.98},
      {"d": "2026-06-26", "v": -2.15}, {"d": "2026-06-27", "v": -1.96}, {"d": "2026-06-29", "v": -1.37},
      {"d": "2026-06-30", "v": -1.17}, {"d": "2026-07-01", "v": -1.47}, {"d": "2026-07-02", "v": -1.37},
      {"d": "2026-07-04", "v": -0.78}, {"d": "2026-07-06", "v": -0.29}, {"d": "2026-07-07", "v": -0.98},
      {"d": "2026-07-08", "v": 1.27}, {"d": "2026-07-10", "v": 2.54}, {"d": "2026-07-12", "v": 3.33},
      {"d": "2026-07-14", "v": 2.15}, {"d": "2026-07-15", "v": 1.86}, {"d": "2026-07-16", "v": 0.0},
      {"d": "2026-07-17", "v": -0.39}, {"d": "2026-07-18", "v": -0.1}, {"d": "2026-07-19", "v": 0.2},
      {"d": "2026-07-21", "v": 0.29}, {"d": "2026-07-22", "v": 0.39}, {"d": "2026-07-23", "v": 0.55}
    ]
  },
  "layer": [
    {
      "data": {"name": "bands"},
      "mark": {"type": "rect", "strokeWidth": 0},
      "encoding": {
        "x": {
          "field": "s",
          "type": "temporal",
          "scale": {
            "type": "utc",
            "domain": [
              {"year": 2024, "month": 10, "date": 1, "utc": true},
              {"year": 2026, "month": 7, "date": 27, "utc": true}
            ]
          },
          "axis": {
            "values": [
              {"year": 2024, "month": 10, "date": 1, "utc": true},
              {"year": 2025, "month": 1, "date": 1, "utc": true},
              {"year": 2025, "month": 4, "date": 1, "utc": true},
              {"year": 2025, "month": 7, "date": 1, "utc": true},
              {"year": 2025, "month": 10, "date": 1, "utc": true},
              {"year": 2026, "month": 1, "date": 1, "utc": true},
              {"year": 2026, "month": 4, "date": 1, "utc": true},
              {"year": 2026, "month": 7, "date": 1, "utc": true}
            ],
            "labelExpr": "utcmonth(datum.value) == 0 ? utcFormat(datum.value, '%Y') : utcFormat(datum.value, '%b')",
            "labelFontWeight": {"condition": {"test": "utcmonth(datum.value) == 0", "value": "bold"}, "value": "normal"},
            "title": "Source: LSEG\u00a0\u00a0\u00a0 | \u00a0\u00a0\u00a0Visible window: 2024-10-01 to 2026-07-27\u00a0\u00a0\u00a0 | \u00a0\u00a0\u00a0@doejistar"
          }
        },
        "x2": {"field": "e"},
        "fill": {
          "field": "r",
          "type": "nominal",
          "scale": {
            "domain": ["teal", "red", "brown", "green"],
            "range": ["#003640", "#400000", "#402d00", "#0f3a00"]
          },
          "legend": null
        }
      }
    },
    {
      "layer": [
        {
          "mark": {"type": "rule", "strokeDash": [12, 8], "strokeWidth": 2.5, "color": "#ff8c00"},
          "encoding": {
            "y": {
              "datum": 0,
              "type": "quantitative",
              "scale": {"domain": [-13.57, 16.61], "nice": false, "zero": false},
              "axis": {
                "orient": "right",
                "values": [-10, 0, 10],
                "labelExpr": "'' + datum.value",
                "labelColor": "#ff8c00",
                "labelFontSize": 27,
                "labelAlign": "right",
                "labelPadding": 51,
                "tickColor": "white",
                "tickSize": 5,
                "domainColor": "white",
                "domainWidth": 1.5,
                "title": null
              }
            }
          }
        },
        {
          "data": {"name": "spx"},
          "mark": {"type": "line", "strokeWidth": 1.7, "strokeJoin": "round"},
          "encoding": {
            "x": {
              "field": "d",
              "type": "temporal",
              "axis": {
                "values": [
                  {"year": 2024, "month": 10, "date": 1, "utc": true},
                  {"year": 2025, "month": 1, "date": 1, "utc": true},
                  {"year": 2025, "month": 4, "date": 1, "utc": true},
                  {"year": 2025, "month": 7, "date": 1, "utc": true},
                  {"year": 2025, "month": 10, "date": 1, "utc": true},
                  {"year": 2026, "month": 1, "date": 1, "utc": true},
                  {"year": 2026, "month": 4, "date": 1, "utc": true},
                  {"year": 2026, "month": 7, "date": 1, "utc": true}
                ],
                "labelExpr": "utcmonth(datum.value) == 0 ? utcFormat(datum.value, '%Y') : utcFormat(datum.value, '%b')",
                "labelFontWeight": {"condition": {"test": "utcmonth(datum.value) == 0", "value": "bold"}, "value": "normal"},
                "title": "Source: LSEG\u00a0\u00a0\u00a0 | \u00a0\u00a0\u00a0Visible window: 2024-10-01 to 2026-07-27\u00a0\u00a0\u00a0 | \u00a0\u00a0\u00a0@doejistar"
              }
            },
            "y": {
              "field": "v",
              "type": "quantitative",
              "scale": {"domain": [-13.57, 16.61], "nice": false, "zero": false},
              "axis": {
                "orient": "right",
                "values": [-10, 0, 10],
                "labelExpr": "'' + datum.value",
                "labelColor": "#ff8c00",
                "labelFontSize": 27,
                "labelAlign": "right",
                "labelPadding": 51,
                "tickColor": "white",
                "tickSize": 5,
                "domainColor": "white",
                "domainWidth": 1.5,
                "title": null
              }
            },
            "stroke": {
              "datum": "SPX 21Day % Change",
              "type": "nominal",
              "scale": {"range": ["#ff8c00"]},
              "legend": {
                "orient": "none",
                "legendX": 9,
                "legendY": -53,
                "title": null,
                "padding": 0,
                "symbolType": "stroke",
                "symbolStrokeWidth": 2,
                "symbolSize": 576,
                "labelColor": "white",
                "labelFont": "Lato",
                "labelFontSize": 32,
                "labelOffset": 7,
                "labelLimit": 0
              }
            }
          }
        }
      ]
    },
    {
      "layer": [
        {
          "mark": {"type": "rule", "strokeDash": [12, 8], "strokeWidth": 2.5, "color": "white"},
          "encoding": {
            "y": {
              "datum": 0,
              "type": "quantitative",
              "scale": {"domain": [-1.36, 4.31], "nice": false, "zero": false},
              "axis": {
                "orient": "left",
                "values": [-1, 0, 1, 2, 3, 4],
                "labelExpr": "'' + datum.value",
                "labelColor": "white",
                "labelFontSize": 27,
                "labelPadding": 8,
                "tickColor": "white",
                "tickSize": 5,
                "domainColor": "white",
                "domainWidth": 1.5,
                "title": null
              }
            }
          }
        },
        {
          "data": {"name": "liq"},
          "mark": {"type": "line", "strokeWidth": 7, "color": "white", "strokeJoin": "round", "strokeCap": "round"},
          "encoding": {
            "x": {
              "field": "d",
              "type": "temporal",
              "axis": {
                "values": [
                  {"year": 2024, "month": 10, "date": 1, "utc": true},
                  {"year": 2025, "month": 1, "date": 1, "utc": true},
                  {"year": 2025, "month": 4, "date": 1, "utc": true},
                  {"year": 2025, "month": 7, "date": 1, "utc": true},
                  {"year": 2025, "month": 10, "date": 1, "utc": true},
                  {"year": 2026, "month": 1, "date": 1, "utc": true},
                  {"year": 2026, "month": 4, "date": 1, "utc": true},
                  {"year": 2026, "month": 7, "date": 1, "utc": true}
                ],
                "labelExpr": "utcmonth(datum.value) == 0 ? utcFormat(datum.value, '%Y') : utcFormat(datum.value, '%b')",
                "labelFontWeight": {"condition": {"test": "utcmonth(datum.value) == 0", "value": "bold"}, "value": "normal"},
                "title": "Source: LSEG\u00a0\u00a0\u00a0 | \u00a0\u00a0\u00a0Visible window: 2024-10-01 to 2026-07-27\u00a0\u00a0\u00a0 | \u00a0\u00a0\u00a0@doejistar"
              }
            },
            "y": {
              "field": "v",
              "type": "quantitative",
              "scale": {"domain": [-1.36, 4.31], "nice": false, "zero": false},
              "axis": {
                "orient": "left",
                "values": [-1, 0, 1, 2, 3, 4],
                "labelExpr": "'' + datum.value",
                "labelColor": "white",
                "labelFontSize": 27,
                "labelPadding": 8,
                "tickColor": "white",
                "tickSize": 5,
                "domainColor": "white",
                "domainWidth": 1.5,
                "title": null
              }
            }
          }
        }
      ]
    }
  ],
  "resolve": {"scale": {"y": "independent"}, "axis": {"y": "independent"}}
}
